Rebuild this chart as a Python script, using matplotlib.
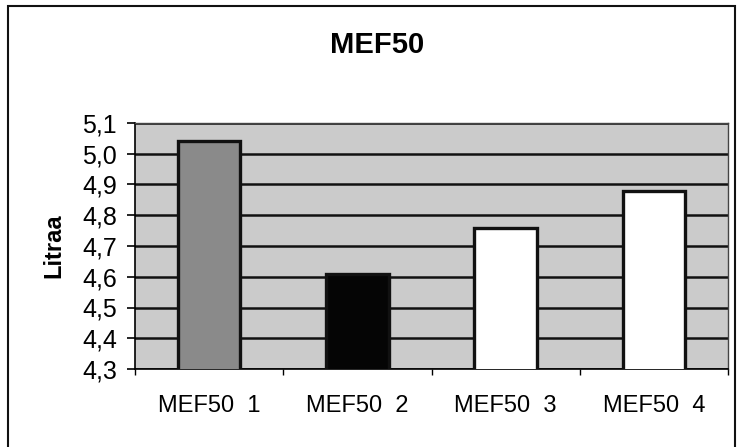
import numpy as np
import matplotlib.pyplot as plt
from matplotlib.patches import Rectangle

plt.rcParams['font.family'] = ['Liberation Sans', 'DejaVu Sans']

categories = ['MEF50  1', 'MEF50  2', 'MEF50  3', 'MEF50  4']
values = [5.04, 4.61, 4.76, 4.88]
bar_colors = ['#8a8a8a', '#050505', '#ffffff', '#ffffff']
y_ticks = [4.3, 4.4, 4.5, 4.6, 4.7, 4.8, 4.9, 5.0, 5.1]

fig = plt.figure(figsize=(7.37, 4.47), dpi=100)
ax = fig.add_axes([135 / 737, 1 - 369 / 447, 593 / 737, 246 / 447])

x = np.arange(len(categories))
ax.set_facecolor('#cbcbcb')
ax.set_axisbelow(True)
ax.yaxis.grid(True, color='#111111', linewidth=1.8)
ax.bar(x, values, width=0.42, bottom=0, color=bar_colors,
       edgecolor='#111111', linewidth=2.4, zorder=3)

ax.set_xlim(-0.5, len(categories) - 0.5)
ax.set_ylim(4.3, 5.1)
ax.set_yticks(y_ticks)
ax.set_yticklabels([f'{t:.1f}'.replace('.', ',') for t in y_ticks], fontsize=18)
ax.set_xticks(x)
ax.set_xticklabels(categories, fontsize=17)
ax.set_xticks(np.arange(len(categories) + 1) - 0.5, minor=True)
ax.tick_params(axis='x', which='major', length=0, pad=19)
ax.tick_params(axis='x', which='minor', length=4, width=1)
ax.tick_params(axis='y', length=6, width=1.2, pad=7)

for side in ['top', 'right']:
    ax.spines[side].set_color('#444444')
    ax.spines[side].set_linewidth(1)
ax.spines['left'].set_linewidth(1.2)
ax.spines['bottom'].set_linewidth(1.2)

ax.set_ylabel('Litraa', fontsize=17, fontweight='bold', labelpad=12)
fig.text(377 / 737, 1 - 45 / 447, 'MEF50', ha='center', va='center',
         fontsize=21, fontweight='bold')

border = Rectangle((8 / 737, -0.05), 727 / 737, 1.05 - 6 / 447,
                   transform=fig.transFigure, fill=False,
                   edgecolor='#111111', linewidth=1.5, clip_on=False)
fig.add_artist(border)

fig.savefig('out.png', dpi=100)
